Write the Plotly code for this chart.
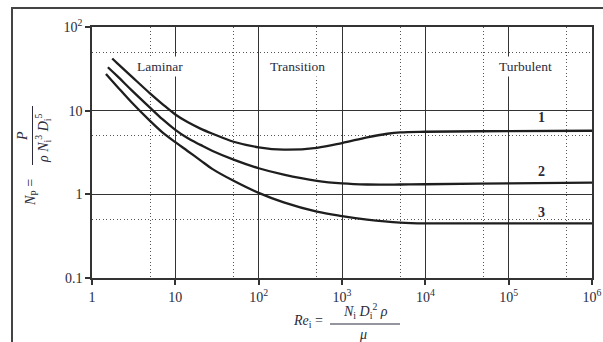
import plotly.graph_objects as go
import numpy as np

# ---- data ----
re_1 = [1.75, 2, 3, 5, 7, 10, 14, 20, 28, 50, 100, 200, 500, 1000, 2000, 3500, 5000, 1e4, 1e5, 1e6]
np_1 = [42, 37, 25.5, 16, 12, 9.0, 7.3, 6.1, 5.3, 4.25, 3.65, 3.42, 3.6, 4.1, 4.8, 5.3, 5.5, 5.6, 5.7, 5.75]

re_2 = [1.55, 2, 3, 5, 7, 10, 14, 20, 28, 50, 100, 200, 500, 1000, 2000, 5000, 1e4, 1e5, 1e6]
np_2 = [33, 26, 17.5, 10.8, 7.9, 5.9, 4.7, 3.9, 3.3, 2.6, 2.05, 1.72, 1.45, 1.35, 1.31, 1.31, 1.32, 1.35, 1.38]

re_3 = [1.47, 2, 3, 5, 7, 10, 14, 20, 28, 50, 100, 200, 500, 1000, 2000, 5000, 1e4, 1e5, 1e6]
np_3 = [27.5, 19.5, 12.5, 7.5, 5.5, 4.2, 3.3, 2.55, 2.0, 1.45, 1.04, 0.8, 0.62, 0.55, 0.5, 0.46, 0.45, 0.45, 0.45]

curve_names = ["1", "2", "3"]
curve_label_re = [2.5e5, 2.5e5, 2.5e5]
curve_label_np = [8.2, 1.85, 0.615]

regime_names = ["Laminar", "Transition", "Turbulent"]
regime_re = [6.5, 296, 1.6e5]
regime_np = [34, 34, 34]

x_tickvals = [1, 10, 1e2, 1e3, 1e4, 1e5, 1e6]
x_ticktext = ["1", "10", "10<sup>2</sup>", "10<sup>3</sup>", "10<sup>4</sup>", "10<sup>5</sup>", "10<sup>6</sup>"]
y_tickvals = [0.1, 1, 10, 100]
y_ticktext = ["0.1", "1", "10", "10<sup>2</sup>"]
x_minor = [5, 50, 500, 5000, 5e4, 5e5]
y_minor = [0.5, 5, 50]

LINE = "#1e1e1e"
GRID = "#333333"
TXT = "#2b2b3b"
FONT = "Liberation Serif"

fig = go.Figure()
for xs, ys in [(re_1, np_1), (re_2, np_2), (re_3, np_3)]:
    fig.add_trace(go.Scatter(x=xs, y=ys, mode="lines",
                             line=dict(color=LINE, width=2.3, shape="spline", smoothing=1.0),
                             showlegend=False, hoverinfo="skip"))

axis_common = dict(
    type="log", showline=True, linecolor=GRID, linewidth=1.5, mirror=True,
    showgrid=True, gridcolor=GRID, gridwidth=1.3,
    ticks="outside", ticklen=5, tickwidth=1.5, tickcolor=GRID,
    tickfont=dict(family=FONT, size=14, color=TXT),
    zeroline=False, automargin=False,
)
minor_common = dict(tickmode="array", showgrid=True, gridcolor="#555555",
                    gridwidth=1.4, griddash="1px,2.5px", ticks="")
fig.update_xaxes(**axis_common, range=[0, 6], tickmode="array",
                 tickvals=x_tickvals, ticktext=x_ticktext,
                 minor=dict(tickvals=x_minor, **minor_common))
fig.update_yaxes(**axis_common, range=[-1, 2], tickmode="array",
                 tickvals=y_tickvals, ticktext=y_ticktext,
                 minor=dict(tickvals=y_minor, **minor_common))

anns = []
for name, x, y in zip(regime_names, regime_re, regime_np):
    anns.append(dict(x=np.log10(x), y=np.log10(y), xref="x", yref="y", text=name,
                     showarrow=False, bgcolor="white", borderpad=2,
                     xanchor="center", yanchor="middle",
                     font=dict(family=FONT, size=13.5, color=TXT)))
for name, x, y in zip(curve_names, curve_label_re, curve_label_np):
    anns.append(dict(x=np.log10(x), y=np.log10(y), xref="x", yref="y", text="<b>" + name + "</b>",
                     showarrow=False, xanchor="center", yanchor="middle",
                     font=dict(family=FONT, size=14, color=TXT)))

# window pixel -> paper coords (plot area spans x 92..592, y 27..278 in the window)
def px(xp):
    return (xp - 92) / 500
def py(yp):
    return (278 - yp) / 251

tf = dict(family=FONT, size=14, color=TXT)
def title_part(x, y, text, angle=0):
    return dict(x=px(x), y=py(y), xref="paper", yref="paper", text=text,
                showarrow=False, textangle=angle, xanchor="center", yanchor="middle",
                font=tf)

# y title
anns.append(title_part(22, 136, "<i>P</i>", -90))
anns.append(title_part(43, 138, "<i>ρ N</i><sub>i</sub><sup>3</sup> <i>D</i><sub>i</sub><sup>5</sup>", -90))
anns.append(title_part(31, 193, "<i>N</i><sub>P</sub> =", -90))
# x title
anns.append(title_part(308, 321, "<i>Re</i><sub>i</sub> ="))
anns.append(title_part(365, 311, "<i>N</i><sub>i</sub> <i>D</i><sub>i</sub><sup>2</sup> <i>ρ</i>"))
anns.append(title_part(363, 334, "<i>μ</i>"))

shapes = [
    # fraction bars
    dict(type="line", xref="paper", yref="paper", x0=px(32.5), x1=px(32.5),
         y0=py(165), y1=py(106), line=dict(color=TXT, width=1)),
    dict(type="line", xref="paper", yref="paper", x0=px(330), x1=px(400),
         y0=py(324), y1=py(324), line=dict(color=TXT, width=1)),
    # outer frame
    dict(type="rect", xref="paper", yref="paper", x0=px(12), x1=px(640),
         y0=py(400), y1=py(8), line=dict(color="#444444", width=2)),
]

fig.update_layout(
    width=603, height=342,
    margin=dict(l=92, r=11, t=27, b=64, autoexpand=False),
    paper_bgcolor="white", plot_bgcolor="white",
    annotations=anns, shapes=shapes,
    showlegend=False,
)

fig.write_html(
    "out.html",
    config={"displayModeBar": False},
    post_script="document.body.style.margin='0';document.body.style.overflow='hidden';",
)
